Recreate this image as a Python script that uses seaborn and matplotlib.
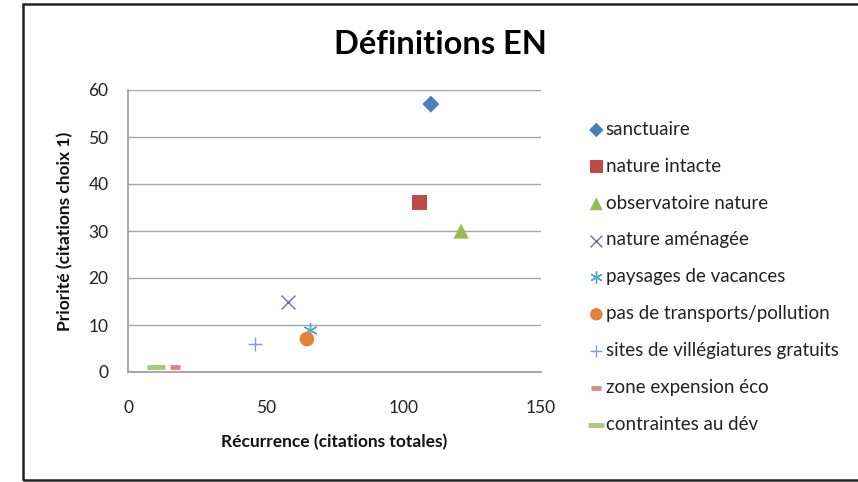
import matplotlib
matplotlib.use("Agg")
import matplotlib.pyplot as plt
import seaborn as sns
import pandas as pd
from matplotlib.patches import Rectangle

# Data
series = ["sanctuaire", "nature intacte", "observatoire nature", "nature aménagée",
          "paysages de vacances", "pas de transports/pollution",
          "sites de villégiatures gratuits", "zone expension éco", "contraintes au dév"]
recurrence = [110, 106, 121, 58, 66, 65, 46, 17, 10]
priorite = [57, 36, 30, 15, 9, 7, 6, 1, 1]
x_ticks = [0, 50, 100, 150]
y_ticks = [0, 10, 20, 30, 40, 50, 60]

colors = ["#4A7EBB", "#BE4B48", "#98B954", "#8064A2", "#4BACC6", "#E4803A",
          "#7D9BD6", "#D48A8A", "#A8C880"]
markers = ["D", "s", "^", "x", (6, 2, 0), "o", "+", "_", "_"]
sizes = [75, 120, 120, 100, 90, 110, 110, 60, 170]
lws = [0, 0, 0, 1.0, 1.0, 0, 1.0, 3.5, 3.5]

sns.set_style("white")
plt.rcParams["font.family"] = ["Lato", "DejaVu Sans"]

fig = plt.figure(figsize=(8.58, 4.82), dpi=100)
fig.patch.set_facecolor("white")
W, H = 858, 482

# outer chart frame
fig.patches.append(Rectangle((23 / W, 1 - 480 / H), 900 / W, (480 - 4) / H,
                             transform=fig.transFigure, fill=False,
                             edgecolor="#222222", linewidth=1.8, zorder=0))

ax = fig.add_axes([128 / W, 1 - 372 / H, (541 - 128) / W, (372 - 90) / H])

df = pd.DataFrame({"serie": series, "x": recurrence, "y": priorite})
for i, row in df.iterrows():
    sub = df.iloc[[i]]
    kw = dict(data=sub, x="x", y="y", ax=ax, marker=markers[i], s=sizes[i],
              color=colors[i], label=row["serie"], zorder=3, clip_on=False)
    if lws[i] == 0:
        kw["edgecolor"] = "none"
        kw["linewidth"] = 0
    else:
        kw["linewidth"] = lws[i]
    sns.scatterplot(**kw)

ax.set_xlim(0, 150)
ax.set_ylim(0, 60)
ax.set_xticks(x_ticks)
ax.set_yticks(y_ticks)
ax.tick_params(axis="both", length=0, labelsize=12.5, colors="#222222")
ax.tick_params(axis="x", pad=20)
ax.tick_params(axis="y", pad=14)
ax.grid(axis="y", color="#A6A6A6", linewidth=1)
ax.grid(axis="x", visible=False)
for s in ["top", "right"]:
    ax.spines[s].set_visible(False)
for s in ["left", "bottom"]:
    ax.spines[s].set_color("#9A9A9A")
    ax.spines[s].set_linewidth(1.2)
ax.set_axisbelow(True)

ax.set_xlabel("Récurrence (citations totales)", fontsize=12.5, fontweight="bold",
              color="#111111", labelpad=13)
ax.set_ylabel("Priorité (citations choix 1)", fontsize=12.5, fontweight="bold",
              color="#111111", labelpad=11)
fig.text(440 / W, 1 - 45 / H, "Définitions EN", ha="center", va="center",
         fontsize=23.5, fontweight="bold", color="#000000")

handles, labels = ax.get_legend_handles_labels()
if ax.legend_:
    ax.legend_.remove()
leg = fig.legend(handles, labels, loc="upper left",
                 bbox_to_anchor=(571 / W, 1 - 104 / H), frameon=False,
                 fontsize=13.5, labelspacing=1.06, handletextpad=0.05,
                 handlelength=0.9, markerscale=0.85)
for t in leg.get_texts():
    t.set_color("#222222")

fig.savefig("out.png", dpi=100, facecolor="white")
